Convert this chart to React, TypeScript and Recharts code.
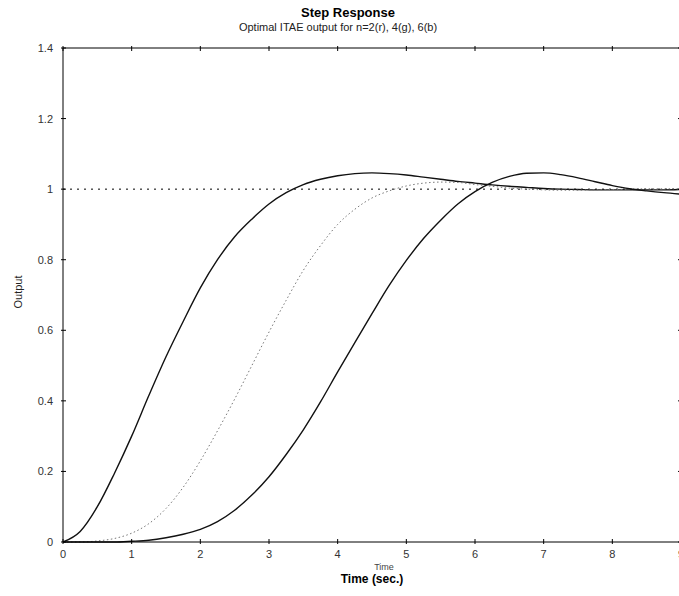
import React from 'react'
import { LineChart, Line, XAxis, YAxis, ReferenceLine } from 'recharts'

// time axis (sec) and read-off step responses, ITAE optimal n = 2, 4, 6
const time = [
  0, 0.25, 0.5, 0.75, 1, 1.25, 1.5, 1.75, 2, 2.25, 2.5, 2.75, 3, 3.25, 3.5, 3.75, 4, 4.25, 4.5,
  4.75, 5, 5.25, 5.5, 5.75, 6, 6.25, 6.5, 6.75, 7, 7.25, 7.5, 7.75, 8, 8.25, 8.5, 8.75, 9,
]
const itae2 = [
  0, 0.03, 0.1, 0.195, 0.3, 0.415, 0.525, 0.625, 0.72, 0.8, 0.865, 0.915, 0.958, 0.99, 1.013, 1.028,
  1.038, 1.044, 1.046, 1.044, 1.04, 1.034, 1.028, 1.022, 1.017, 1.012, 1.008, 1.005, 1.002, 1.0,
  0.999, 0.998, 0.998, 0.998, 0.998, 0.998, 0.999,
]
const itae4 = [
  0, 0, 0.003, 0.01, 0.025, 0.052, 0.095, 0.155, 0.23, 0.315, 0.405, 0.5, 0.595, 0.685, 0.77, 0.84,
  0.9, 0.943, 0.975, 0.995, 1.009, 1.017, 1.02, 1.019, 1.013, 1.008, 1.003, 1.0, 0.998, 0.997,
  0.997, 0.998, 0.999, 1.0, 1.001, 1.001, 1.001,
]
const itae6 = [
  0, 0, 0, 0, 0.002, 0.005, 0.012, 0.022, 0.036, 0.058, 0.09, 0.133, 0.185, 0.248, 0.318, 0.397,
  0.482, 0.565, 0.647, 0.727, 0.798, 0.86, 0.912, 0.958, 0.993, 1.019, 1.036, 1.045, 1.046, 1.041, 1.032,
  1.021, 1.01, 1.001, 0.995, 0.99, 0.986,
]
const xTicks = [0, 1, 2, 3, 4, 5, 6, 7, 8, 9]
const yTicks = [0, 0.2, 0.4, 0.6, 0.8, 1, 1.2, 1.4]

const FONT = "'Liberation Sans', Arial, sans-serif"

const data = time.map((t, i) => ({ t, n2: itae2[i], n4: itae4[i], n6: itae6[i] }))

const BottomTick = ({ x, y, payload }: any) => (
  <g>
    <line x1={x} y1={y} x2={x} y2={y - 5} stroke="#000" />
    <text x={x} y={y + 14} textAnchor="middle" fontSize={11} fontFamily={FONT} fill="#333">
      {payload.value}
    </text>
  </g>
)

const TopTick = ({ x, y }: any) => <line x1={x} y1={y} x2={x} y2={y + 5} stroke="#000" />

const LeftTick = ({ x, y, payload }: any) => (
  <g>
    <line x1={x} y1={y} x2={x + 5} y2={y} stroke="#000" />
    <text x={x - 8} y={y + 4} textAnchor="end" fontSize={11} fontFamily={FONT} fill="#333">
      {payload.value}
    </text>
  </g>
)

const RightTick = ({ x, y }: any) => <line x1={x} y1={y} x2={x - 5} y2={y} stroke="#000" />

export default function App() {
  return (
    <div style={{ position: 'absolute', left: 0, top: 0, width: 679, height: 596, background: '#fff', overflow: 'hidden' }}>
      <LineChart
        width={679}
        height={596}
        data={data}
        margin={{ top: 47, right: -3, bottom: 53, left: 62 }}
      >
        <XAxis
          dataKey="t"
          type="number"
          domain={[0, 9]}
          ticks={xTicks}
          interval={0}
          height={1}
          tickSize={0}
          tickLine={false}
          axisLine={{ stroke: '#000' }}
          tick={BottomTick}
        />
        <XAxis
          xAxisId="top"
          dataKey="t"
          orientation="top"
          type="number"
          domain={[0, 9]}
          allowDataOverflow
          ticks={xTicks}
          interval={0}
          height={1}
          tickSize={0}
          tickLine={false}
          axisLine={{ stroke: '#000' }}
          tick={TopTick}
        />
        <YAxis
          type="number"
          domain={[0, 1.4]}
          ticks={yTicks}
          interval={0}
          width={1}
          tickSize={0}
          tickLine={false}
          axisLine={{ stroke: '#000' }}
          tick={LeftTick}
        />
        <YAxis
          yAxisId="right"
          orientation="right"
          type="number"
          domain={[0, 1.4]}
          allowDataOverflow
          ticks={yTicks}
          interval={0}
          width={1}
          tickSize={0}
          tickLine={false}
          axisLine={{ stroke: '#000' }}
          tick={RightTick}
        />
        <ReferenceLine y={1} stroke="#000" strokeDasharray="2 5" />
        <Line type="monotone" dataKey="n2" stroke="#111" strokeWidth={1.4} dot={false} isAnimationActive={false} />
        <Line
          type="monotone"
          dataKey="n4"
          stroke="#777"
          strokeWidth={1}
          strokeDasharray="1.5 2.5"
          dot={false}
          isAnimationActive={false}
        />
        <Line type="monotone" dataKey="n6" stroke="#111" strokeWidth={1.4} dot={false} isAnimationActive={false} />
      </LineChart>
      <svg
        width={679}
        height={596}
        style={{ position: 'absolute', left: 0, top: 0, pointerEvents: 'none' }}
      >
        <text x={348} y={17} textAnchor="middle" fontSize={13} fontWeight="bold" fontFamily={FONT} fill="#000">
          Step Response
        </text>
        <text x={338} y={31} textAnchor="middle" fontSize={11} fontFamily={FONT} fill="#222">
          Optimal ITAE output for n=2(r), 4(g), 6(b)
        </text>
        <text
          x={22}
          y={292}
          transform="rotate(-90 22 292)"
          textAnchor="middle"
          fontSize={11}
          fontFamily={FONT}
          fill="#222"
        >
          Output
        </text>
        <text x={384} y={570} textAnchor="middle" fontSize={9} fontFamily={FONT} fill="#444">
          Time
        </text>
        <text x={372} y={583} textAnchor="middle" fontSize={12} fontWeight="bold" fontFamily={FONT} fill="#000">
          Time (sec.)
        </text>
      </svg>
    </div>
  )
}
